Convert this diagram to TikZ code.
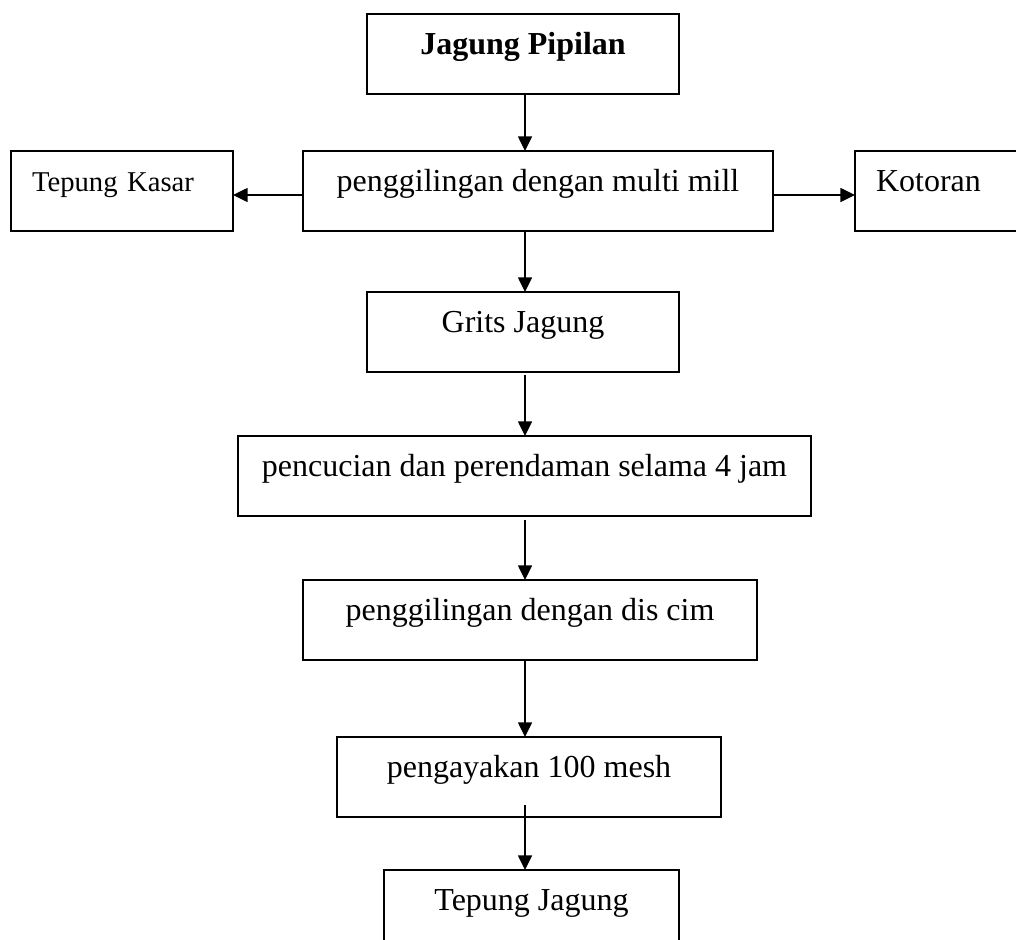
\documentclass[tikz,border=0pt]{standalone}
\usepackage{fontspec}
\setmainfont{Liberation Serif}
\usepackage{tikz}
\usetikzlibrary{positioning,arrows.meta}
\tikzstyle{box} = [rectangle, draw, line width=1.5pt, outer sep=0pt, inner ysep=0pt, text height=30pt, text depth=30pt, font=\fontsize{24}{28}\selectfont]
\tikzstyle{process} = [box, align=center]
\tikzstyle{side} = [box, inner xsep=15.75pt, align=left]
\tikzstyle{flow} = [-{Triangle[length=11pt,width=10.5pt]}, line width=1.1pt]

\begin{document}
\begin{tikzpicture}[node distance = 48pt and 0pt]
      \useasboundingbox (0,0) rectangle (762pt,-704.25pt);
      \clip (0,0) rectangle (762pt,-704.25pt);
      \coordinate (axis) at (393.75pt,0);

      %%%%%%%%%%%%%%%%%%%%%%%%%%%%%%%%%%%%%%%%%%
      % MAIN LINE
      %%%%%%%%%%%%%%%%%%%%%%%%%%%%%%%%%%%%%%%%%%
      \node[process, minimum width=234pt, anchor=north] (JP) at (392.25pt,-10.5pt) {\textbf{Jagung Pipilan}};
      \node[process, minimum width=352.5pt, below=42.75pt of JP, xshift=11.25pt] (MM) {penggilingan dengan multi mill};
      \node[process, minimum width=234pt, below=45.75pt of MM, xshift=-11.25pt] (GJ) {Grits Jagung};
      \node[process, minimum width=429.75pt, below=of GJ, xshift=1.125pt] (CUCI) {pencucian dan perendaman selama 4 jam};
      \node[process, minimum width=340.5pt, below=of CUCI, xshift=4.125pt] (DC) {penggilingan dengan dis cim};
      \node[process, minimum width=288pt, below=57.75pt of DC, xshift=-0.75pt] (AYAK) {pengayakan 100 mesh};
      \node[process, minimum width=221.25pt, below=39.75pt of AYAK, xshift=1.875pt] (TJ) {Tepung Jagung};

      %%%%%%%%%%%%%%%%%%%%%%%%%%%%%%%%%%%%%%%%%%
      % SIDE OUTPUTS
      %%%%%%%%%%%%%%%%%%%%%%%%%%%%%%%%%%%%%%%%%%
      \node[side, text width=135pt, font=\fontsize{21.5}{26}\selectfont, left=52.5pt of MM] (TK) {Tepung Kasar};
      \node[side, text width=160pt, right=61.5pt of MM] (KOT) {Kotoran};

      \draw[flow] (JP.south -| axis) -- (MM.north -| axis);
      \draw[flow] (MM.south -| axis) -- (GJ.north -| axis);
      \draw[flow, shorten <=2pt] (GJ.south -| axis) -- (CUCI.north -| axis);
      \draw[flow, shorten <=3pt] (CUCI.south -| axis) -- (DC.north -| axis);
      \draw[flow] (DC.south -| axis) -- (AYAK.north -| axis);
      \draw[flow, shorten <=-9pt] (AYAK.south -| axis) -- (TJ.north -| axis);

      \draw[flow] ([yshift=-3pt]MM.west) -- ([yshift=-3pt]MM.west -| TK.east);
      \draw[flow] ([yshift=-3pt]MM.east) -- ([yshift=-3pt]MM.east -| KOT.west);
\end{tikzpicture}
\end{document}
